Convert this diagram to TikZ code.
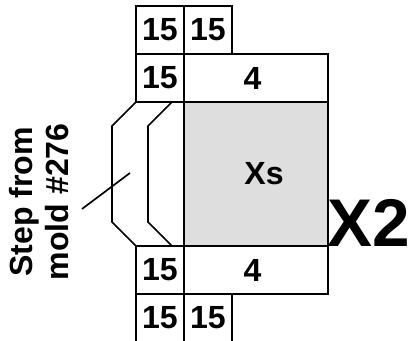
\documentclass[tikz,border=0pt]{standalone}
\usepackage{fontspec}
\setmainfont{Liberation Sans}
\usetikzlibrary{positioning}
\definecolor{xsgray}{gray}{0.87}
\tikzset{
  cell/.style={draw, line width=1pt, minimum height=1cm, minimum width=#1, inner sep=0pt, outer sep=0pt, font=\fontsize{19}{20}\selectfont\bfseries},
  cell/.default=1cm
}
\begin{document}
\begin{tikzpicture}[line join=miter, line cap=butt, line width=1pt]
\useasboundingbox (0,0) rectangle (8.521,7.104);
\node[cell=3cm, minimum height=3cm, fill=xsgray] (xs) at (5.333,3.479) {};
\node[font=\fontsize{19}{20}\selectfont\bfseries] (xstext) at (5.5,3.479) {Xs};
\node[cell=3cm, above=0pt of xs] (topfour) {4\kern4pt};
\node[cell=3cm, below=0pt of xs] (botfour) {4\kern4pt};
\node[cell, left=0pt of topfour] (topmid) {15};
\node[cell, left=0pt of botfour] (botmid) {15};
\node[cell, above=0pt of topmid] (topa) {15};
\node[cell, right=0pt of topa] (topb) {15};
\node[cell, below=0pt of botmid] (bota) {15};
\node[cell, right=0pt of bota] (botb) {15};
% step outline
\draw (topmid.south west) -- ++(-.5,-.5) -- ++(0,-2) -- (botmid.north west);
\draw (topmid.south west) ++(.75,0) -- ++(-.5,-.5) -- ++(0,-2) -- ++(.5,-.5);
\coordinate (leadin) at (2.708,3.5);
\coordinate (leadout) at (1.708,2.75);
\draw (leadout) -- (leadin);
\node[rotate=90, align=center, font=\fontsize{19}{21.5}\selectfont\bfseries] (step) at (0.82,2.9) {Step from\\mold \#276};
\node[font=\fontsize{40}{44}\selectfont\bfseries, inner sep=0pt] (xtwo) at (7.69,2.45) {X2};
\end{tikzpicture}
\end{document}
